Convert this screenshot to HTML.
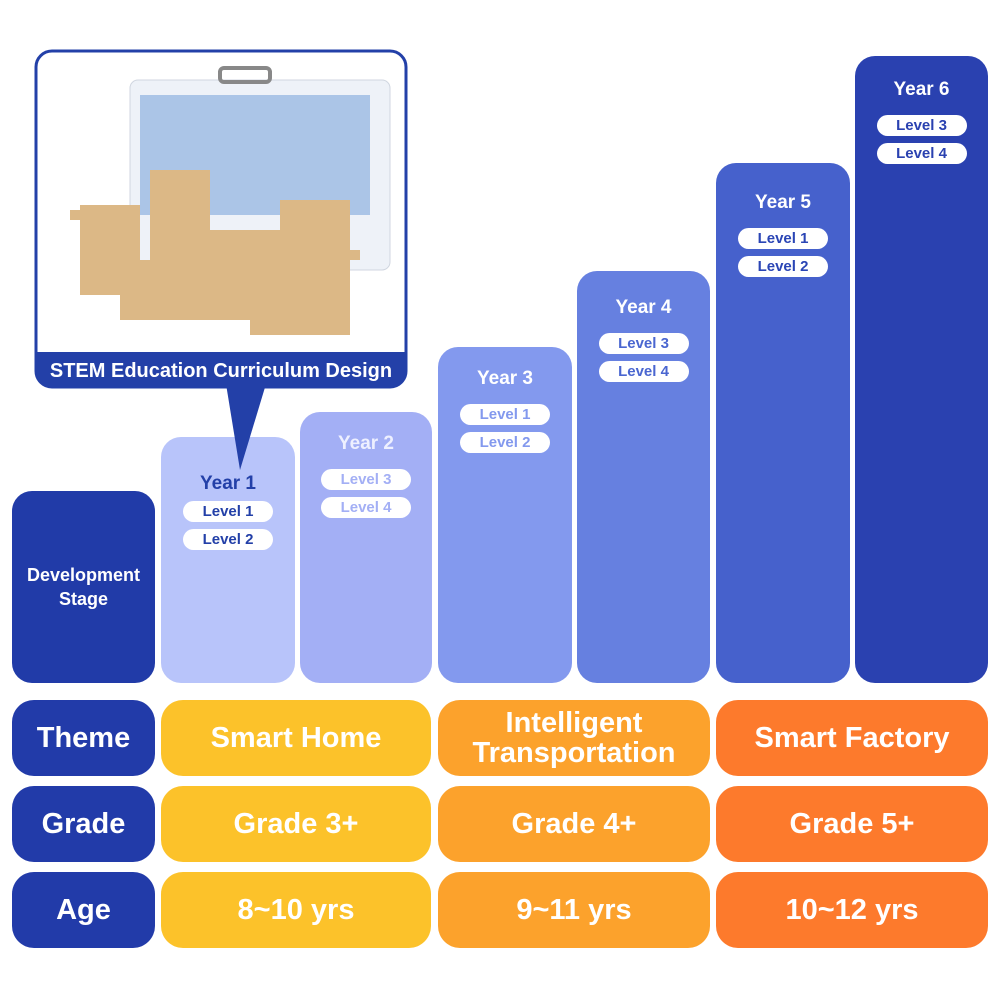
<!DOCTYPE html>
<html><head><meta charset="utf-8"><style>
body{margin:0;width:1000px;height:1000px;background:#fff;position:relative;font-family:"Liberation Sans",sans-serif;overflow:hidden}
.b{position:absolute;border-radius:20px}
.col{position:absolute;bottom:317px;border-radius:20px;text-align:center}
.yr{font-weight:bold;font-size:19px;margin-top:36px;line-height:20px}
.pill{width:90px;height:21px;border-radius:11px;background:#fff;margin:7px auto 0;font-weight:bold;font-size:15px;line-height:21px;color:#2340a8}
.row{position:absolute;display:flex;align-items:center;justify-content:center;color:#fff;font-weight:bold;border-radius:22px;text-align:center}
.lbl{background:#223ba9;font-size:29px;left:12px;width:143px}
.y{background:#fcc22a;left:161px;width:270px;font-size:29px}
.o{background:#fca22c;left:438px;width:272px;font-size:29px}
.r{background:#fd7a2c;left:716px;width:272px;font-size:29px}
</style></head><body>
<div class="b" style="left:12px;top:491px;width:143px;height:192px;background:#213ba8;color:#fff;font-weight:bold;font-size:18px;display:flex;align-items:center;justify-content:center;text-align:center;line-height:24px">Development<br>Stage</div>
<div class="col" style="left:161px;width:134px;top:437px;background:#b8c4fa"><div class="yr" style="color:#2340a8;margin-top:37px">Year 1</div><div class="pill">Level 1</div><div class="pill">Level 2</div></div>
<div class="col" style="left:300px;width:132px;top:412px;background:#a3aff5"><div class="yr" style="color:#eef0ff;margin-top:22px">Year 2</div><div class="pill" style="color:#a3aff5;margin-top:15px">Level 3</div><div class="pill" style="color:#a3aff5">Level 4</div></div>
<div class="col" style="left:438px;width:134px;top:347px;background:#8399ee"><div class="yr" style="color:#fff;margin-top:22px">Year 3</div><div class="pill" style="color:#8399ee;margin-top:15px">Level 1</div><div class="pill" style="color:#8399ee">Level 2</div></div>
<div class="col" style="left:577px;width:133px;top:271px;background:#6680e0"><div class="yr" style="color:#fff;margin-top:27px">Year 4</div><div class="pill" style="color:#4a66d0;margin-top:15px">Level 3</div><div class="pill" style="color:#4a66d0">Level 4</div></div>
<div class="col" style="left:716px;width:134px;top:163px;background:#4661cc"><div class="yr" style="color:#fff;margin-top:30px">Year 5</div><div class="pill" style="color:#2a45b5;margin-top:15px">Level 1</div><div class="pill" style="color:#2a45b5">Level 2</div></div>
<div class="col" style="left:855px;width:133px;top:56px;background:#2a41b0"><div class="yr" style="color:#fff;margin-top:24px">Year 6</div><div class="pill" style="color:#2a41b0;margin-top:15px">Level 3</div><div class="pill" style="color:#2a41b0">Level 4</div></div>

<svg style="position:absolute;left:0;top:0" width="1000" height="500">
<polygon points="226,384 266,384 240,470" fill="#2340a8"/>
<rect x="36" y="51" width="370" height="336" rx="16" fill="#fff" stroke="#2340a8" stroke-width="3"/>
<path d="M36,352 H406 V371 Q406,387 390,387 H52 Q36,387 36,371 Z" fill="#2340a8"/>
<rect x="130" y="80" width="260" height="190" rx="8" fill="#eef2f8" stroke="#d0d6e0"/>
<rect x="140" y="95" width="230" height="120" fill="#7fa6dc" opacity="0.6"/>
<rect x="220" y="68" width="50" height="14" rx="4" fill="none" stroke="#888" stroke-width="4"/>
<g fill="#dcb886">
<rect x="80" y="205" width="60" height="90"/><rect x="150" y="170" width="60" height="110"/><rect x="120" y="260" width="90" height="60"/>
<rect x="210" y="230" width="70" height="90"/><rect x="280" y="200" width="70" height="120"/><rect x="250" y="300" width="100" height="35"/>
<rect x="70" y="210" width="70" height="10"/><rect x="300" y="250" width="60" height="10"/>
</g>
<text x="221" y="377" fill="#fff" font-family="Liberation Sans,sans-serif" font-weight="bold" font-size="20" text-anchor="middle">STEM Education Curriculum Design</text>
</svg>

<div class="row lbl" style="top:700px;height:76px">Theme</div>
<div class="row y" style="top:700px;height:76px">Smart Home</div>
<div class="row o" style="top:700px;height:76px;line-height:30px">Intelligent<br>Transportation</div>
<div class="row r" style="top:700px;height:76px">Smart Factory</div>
<div class="row lbl" style="top:786px;height:76px">Grade</div>
<div class="row y" style="top:786px;height:76px">Grade 3+</div>
<div class="row o" style="top:786px;height:76px">Grade 4+</div>
<div class="row r" style="top:786px;height:76px">Grade 5+</div>
<div class="row lbl" style="top:872px;height:76px">Age</div>
<div class="row y" style="top:872px;height:76px">8~10 yrs</div>
<div class="row o" style="top:872px;height:76px">9~11 yrs</div>
<div class="row r" style="top:872px;height:76px">10~12 yrs</div>
</body></html>
